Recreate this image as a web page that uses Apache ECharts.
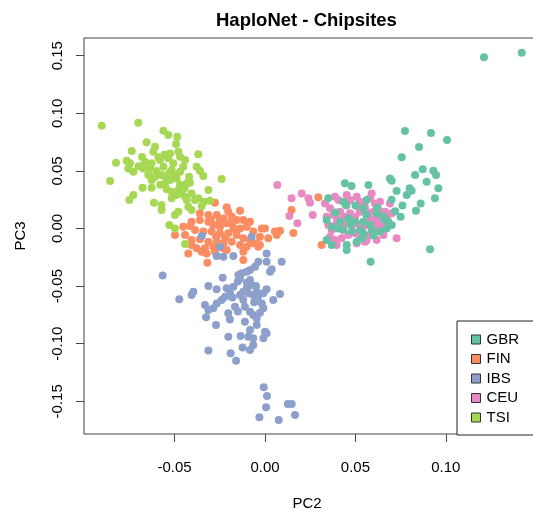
<!DOCTYPE html>
<html>
<head>
<meta charset="utf-8">
<script src="https://cdn.jsdelivr.net/npm/echarts@6/dist/echarts.min.js"></script>
<style>
  html, body { margin: 0; padding: 0; background: #ffffff; }
  #chart { width: 533px; height: 510px; }
</style>
</head>
<body>
<div id="chart"></div>
<script>
// Principal components (PC2, PC3) per individual, grouped by population.
const GBR = [
  [0.1211,0.1486],[0.1420,0.1526],[0.0774,0.0846],[0.0918,0.0829],[0.1007,0.0768],[0.0852,0.0707],
  [0.0756,0.0618],[0.0691,0.0435],[0.0701,0.0415],[0.0728,0.0326],[0.0784,0.0291],[0.0811,0.0328],
  [0.0830,0.0464],[0.0872,0.0514],[0.0931,0.0502],[0.0946,0.0464],[0.0894,0.0407],[0.0959,0.0349],
  [0.0940,0.0262],[0.0861,0.0218],[0.0835,0.0155],[0.0750,0.0103],[0.0913,-0.0181],[0.0584,-0.0288],
  [0.0442,0.0392],[0.0479,0.0369],[0.0572,0.0378],[0.0350,0.0262],[0.0433,0.0233],[0.0448,0.0204],
  [0.0562,0.0247],[0.0544,0.0175],[0.0618,0.0132],[0.0341,0.0074],[0.0415,0.0059],[0.0461,0.0088],
  [0.0498,0.0059],[0.0544,0.0059],[0.0655,0.0103],[0.0682,0.0059],[0.0701,0.0030],[0.0673,0.0001],
  [0.0636,-0.0027],[0.0590,-0.0013],[0.0525,-0.0013],[0.0479,-0.0027],[0.0433,-0.0013],[0.0406,0.0001],
  [0.0369,0.0016],[0.0341,-0.0100],[0.0369,-0.0143],[0.0452,-0.0143],[0.0452,-0.0187],[0.0507,-0.0114],
  [0.0544,-0.0042],[0.0581,0.0030],[0.0500,0.0200],[0.0560,0.0120],[0.0470,0.0040],[0.0620,0.0180],
  [0.0390,0.0140],[0.0600,-0.0060],[0.0540,-0.0080],[0.0660,0.0080],[0.0720,0.0150],[0.0760,0.0200],
  [0.0800,0.0350],[0.0700,0.0250]
];
const FIN = [
  [-0.0277,0.0224],[-0.0212,0.0184],[-0.0203,0.0146],[-0.0138,0.0155],[-0.0083,0.0059],[-0.0018,0.0001],
  [0.0000,0.0001],[0.0065,-0.0056],[0.0018,-0.0085],[0.0055,-0.0027],[-0.0360,0.0132],[-0.0313,0.0117],
  [-0.0267,0.0117],[-0.0230,0.0088],[-0.0184,0.0103],[-0.0157,0.0074],[-0.0120,0.0074],[-0.0406,0.0059],
  [-0.0360,0.0074],[-0.0313,0.0059],[-0.0286,0.0030],[-0.0249,0.0016],[-0.0212,0.0045],[-0.0175,0.0001],
  [-0.0138,0.0001],[-0.0101,0.0016],[-0.0065,-0.0027],[-0.0028,-0.0071],[-0.0452,0.0016],[-0.0415,0.0022],
  [-0.0387,-0.0013],[-0.0341,-0.0027],[-0.0295,-0.0027],[-0.0249,-0.0042],[-0.0203,-0.0042],[-0.0157,-0.0056],
  [-0.0120,-0.0085],[-0.0083,-0.0100],[-0.0046,-0.0129],[-0.0498,-0.0056],[-0.0442,-0.0056],[-0.0406,-0.0100],
  [-0.0360,-0.0094],[-0.0313,-0.0114],[-0.0267,-0.0114],[-0.0230,-0.0129],[-0.0184,-0.0114],[-0.0138,-0.0143],
  [-0.0101,-0.0158],[-0.0037,-0.0158],[-0.0406,-0.0143],[-0.0378,-0.0172],[-0.0332,-0.0172],[-0.0286,-0.0158],
  [-0.0230,-0.0172],[-0.0424,-0.0216],[-0.0350,-0.0201],[-0.0323,-0.0216],[-0.0277,-0.0201],[-0.0212,-0.0187],
  [-0.0120,-0.0201],[-0.0319,-0.0297],[-0.0120,-0.0273],[-0.0028,-0.0143],[-0.0065,-0.0129],[0.0083,-0.0020],
  [0.0157,-0.0040],[0.0295,0.0271],[0.0147,0.0161],[0.0313,-0.0143],[-0.0250,0.0060],[-0.0180,0.0040],
  [-0.0300,0.0080],[-0.0220,-0.0080],[-0.0160,-0.0020],[-0.0270,-0.0070]
];
const IBS = [
  [-0.0350,-0.0065],[-0.0249,-0.0158],[-0.0267,-0.0239],[-0.0230,-0.0245],[-0.0175,-0.0239],[-0.0074,-0.0071],
  [0.0009,-0.0216],[0.0009,-0.0288],[-0.0037,-0.0288],[-0.0055,-0.0331],[-0.0083,-0.0360],[-0.0101,-0.0375],
  [-0.0129,-0.0389],[-0.0147,-0.0404],[-0.0138,-0.0433],[0.0092,-0.0288],[0.0037,-0.0354],[0.0028,-0.0375],
  [-0.0566,-0.0409],[-0.0234,-0.0427],[-0.0083,-0.0447],[-0.0074,-0.0490],[-0.0101,-0.0519],[-0.0120,-0.0548],
  [-0.0138,-0.0577],[-0.0092,-0.0563],[-0.0065,-0.0577],[-0.0046,-0.0548],[-0.0009,-0.0563],[0.0009,-0.0528],
  [0.0046,-0.0621],[0.0083,-0.0569],[-0.0313,-0.0499],[-0.0267,-0.0528],[-0.0212,-0.0519],[-0.0175,-0.0505],
  [-0.0194,-0.0563],[-0.0221,-0.0592],[-0.0240,-0.0621],[-0.0267,-0.0650],[-0.0286,-0.0693],[-0.0313,-0.0707],
  [-0.0326,-0.0771],[-0.0332,-0.0664],[-0.0396,-0.0548],[-0.0406,-0.0577],[-0.0474,-0.0615],[-0.0166,-0.0679],
  [-0.0203,-0.0736],[-0.0194,-0.0789],[-0.0111,-0.0679],[-0.0083,-0.0722],[-0.0065,-0.0751],[-0.0046,-0.0780],
  [-0.0028,-0.0731],[-0.0009,-0.0693],[-0.0018,-0.0650],[-0.0271,-0.0838],[-0.0111,-0.0809],[-0.0046,-0.0838],
  [-0.0083,-0.0881],[0.0000,-0.0896],[0.0009,-0.0910],[-0.0009,-0.0953],[-0.0065,-0.0953],[-0.0092,-0.0939],
  [-0.0135,-0.0933],[-0.0203,-0.0939],[-0.0065,-0.1011],[-0.0083,-0.1055],[-0.0124,-0.1032],[-0.0190,-0.1084],
  [-0.0160,-0.1147],[-0.0313,-0.1060],[-0.0007,-0.1379],[0.0011,-0.1454],[0.0006,-0.1552],[-0.0031,-0.1639],
  [0.0076,-0.1662],[0.0126,-0.1524],[0.0148,-0.1524],[0.0166,-0.1619],[-0.0150,-0.0460],[-0.0100,-0.0470],
  [-0.0050,-0.0500],[-0.0180,-0.0600],[-0.0120,-0.0620],[-0.0060,-0.0640],[-0.0150,-0.0720],[-0.0040,-0.0600]
];
const CEU = [
  [0.0068,0.0378],[0.0147,0.0262],[0.0203,0.0305],[0.0240,0.0262],[0.0249,0.0224],[0.0135,0.0109],
  [0.0179,0.0045],[0.0264,0.0117],[0.0332,0.0218],[0.0360,0.0175],[0.0387,0.0276],[0.0406,0.0247],
  [0.0452,0.0291],[0.0470,0.0247],[0.0507,0.0276],[0.0525,0.0233],[0.0581,0.0262],[0.0590,0.0305],
  [0.0608,0.0218],[0.0636,0.0233],[0.0691,0.0218],[0.0701,0.0132],[0.0341,0.0103],[0.0378,0.0117],
  [0.0415,0.0146],[0.0442,0.0103],[0.0470,0.0132],[0.0498,0.0103],[0.0525,0.0146],[0.0553,0.0175],
  [0.0572,0.0132],[0.0599,0.0146],[0.0627,0.0161],[0.0664,0.0146],[0.0673,0.0088],[0.0350,0.0030],
  [0.0369,-0.0013],[0.0396,0.0045],[0.0433,0.0016],[0.0479,0.0030],[0.0507,0.0045],[0.0535,0.0001],
  [0.0562,0.0030],[0.0590,0.0059],[0.0618,0.0088],[0.0645,0.0030],[0.0608,-0.0013],[0.0581,-0.0056],
  [0.0360,-0.0071],[0.0387,-0.0100],[0.0424,-0.0085],[0.0461,-0.0056],[0.0498,-0.0042],[0.0525,-0.0085],
  [0.0562,-0.0100],[0.0618,-0.0100],[0.0655,-0.0056],[0.0728,-0.0085],[0.0396,-0.0143],[0.0507,-0.0129],
  [0.0553,-0.0114],[0.0450,0.0200],[0.0520,0.0180],[0.0580,0.0080],[0.0400,0.0080],[0.0480,-0.0020],
  [0.0550,0.0200],[0.0620,0.0040],[0.0440,0.0060]
];
const TSI = [
  [-0.0903,0.0893],[-0.0701,0.0919],[-0.0562,0.0849],[-0.0535,0.0812],[-0.0485,0.0797],[-0.0492,0.0734],
  [-0.0655,0.0748],[-0.0608,0.0710],[-0.0618,0.0667],[-0.0737,0.0673],[-0.0824,0.0571],[-0.0765,0.0589],
  [-0.0747,0.0566],[-0.0756,0.0522],[-0.0728,0.0493],[-0.0664,0.0580],[-0.0673,0.0522],[-0.0627,0.0566],
  [-0.0636,0.0522],[-0.0645,0.0464],[-0.0608,0.0450],[-0.0627,0.0421],[-0.0581,0.0595],[-0.0562,0.0537],
  [-0.0572,0.0464],[-0.0544,0.0435],[-0.0553,0.0392],[-0.0525,0.0652],[-0.0535,0.0609],[-0.0507,0.0566],
  [-0.0516,0.0508],[-0.0498,0.0464],[-0.0525,0.0421],[-0.0479,0.0667],[-0.0470,0.0624],[-0.0442,0.0595],
  [-0.0452,0.0537],[-0.0470,0.0493],[-0.0489,0.0435],[-0.0369,0.0644],[-0.0378,0.0537],[-0.0360,0.0502],
  [-0.0341,0.0456],[-0.0240,0.0430],[-0.0857,0.0412],[-0.0677,0.0354],[-0.0627,0.0354],[-0.0415,0.0398],
  [-0.0433,0.0392],[-0.0313,0.0334],[-0.0479,0.0334],[-0.0489,0.0291],[-0.0461,0.0305],[-0.0442,0.0276],
  [-0.0433,0.0247],[-0.0406,0.0305],[-0.0387,0.0247],[-0.0369,0.0262],[-0.0516,0.0262],[-0.0728,0.0291],
  [-0.0750,0.0247],[-0.0614,0.0224],[-0.0572,0.0204],[-0.0572,0.0161],[-0.0479,0.0146],[-0.0498,0.0117],
  [-0.0424,0.0190],[-0.0406,0.0161],[-0.0350,0.0195],[-0.0337,0.0233],[-0.0304,0.0242],[-0.0529,0.0030],
  [-0.0498,0.0001],[-0.0442,-0.0135],[-0.0516,0.0320],[-0.0544,0.0340],[-0.0590,0.0620],[-0.0555,0.0640],
  [-0.0600,0.0500],[-0.0530,0.0480],[-0.0580,0.0380],[-0.0470,0.0380],[-0.0445,0.0350],[-0.0420,0.0450],
  [-0.0680,0.0620],[-0.0700,0.0540]
];

const populations = ['GBR', 'FIN', 'IBS', 'CEU', 'TSI'];
const popColors = { GBR: '#66C2A5', FIN: '#FC8D62', IBS: '#8DA0CB', CEU: '#E78AC3', TSI: '#A6D854' };
const popData = { GBR, FIN, IBS, CEU, TSI };
const drawOrder = ['FIN', 'IBS', 'TSI', 'CEU', 'GBR'];

const xTicks = [-0.05, 0.00, 0.05, 0.10];
const yTicks = [-0.15, -0.10, -0.05, 0.00, 0.05, 0.10, 0.15];
const xRange = [-0.1001, 0.1532];
const yRange = [-0.1784, 0.1654];

const FONT = 'Liberation Sans, Arial, Helvetica, sans-serif';
const fmt = v => Number(v).toFixed(2);

const chart = echarts.init(document.getElementById('chart'), null, { renderer: 'canvas' });

chart.setOption({
  animation: false,
  backgroundColor: '#ffffff',
  textStyle: { fontFamily: FONT, color: '#000' },
  title: {
    text: 'HaploNet - Chipsites',
    left: 216,
    top: 11,
    padding: 0,
    textStyle: { fontFamily: FONT, fontSize: 18.5, fontWeight: 'bold', color: '#000', lineHeight: 19 }
  },
  grid: {
    left: 84, top: 38, width: 458, height: 396,
    outerBoundsMode: 'none',
    show: true, borderColor: '#444', borderWidth: 1, backgroundColor: 'transparent',
    containLabel: false
  },
  xAxis: {
    type: 'value',
    min: xRange[0], max: xRange[1],
    name: 'PC2', nameLocation: 'middle', nameGap: 62,
    nameTextStyle: { fontFamily: FONT, fontSize: 15, color: '#000', lineHeight: 15, padding: [0, 12, 0, 0] },
    splitLine: { show: false },
    axisLine: { show: false, onZero: false },
    axisTick: { show: true, inside: false, length: 8, customValues: xTicks, lineStyle: { color: '#444', width: 1 } },
    axisLabel: { customValues: xTicks, formatter: fmt, margin: 26, fontSize: 15, fontFamily: FONT, color: '#000', lineHeight: 15 }
  },
  yAxis: {
    type: 'value',
    min: yRange[0], max: yRange[1],
    name: 'PC3', nameLocation: 'middle', nameGap: 56, nameRotate: 90,
    nameTextStyle: { fontFamily: FONT, fontSize: 15, color: '#000', lineHeight: 15 },
    splitLine: { show: false },
    axisLine: { show: false, onZero: false },
    axisTick: { show: true, inside: false, length: 8, customValues: yTicks, lineStyle: { color: '#444', width: 1 } },
    axisLabel: { customValues: yTicks, formatter: fmt, rotate: 90, margin: 19, fontSize: 15, fontFamily: FONT, color: '#000', lineHeight: 15 }
  },
  legend: {
    data: populations,
    orient: 'vertical',
    left: 457, top: 321,
    padding: [11, 60, 10, 14],
    itemGap: 4.5,
    itemWidth: 9, itemHeight: 9,
    icon: 'rect',
    backgroundColor: '#ffffff',
    borderColor: '#222', borderWidth: 1, borderRadius: 0,
    itemStyle: { borderColor: '#333', borderWidth: 1 },
    textStyle: { fontFamily: FONT, fontSize: 15, color: '#000', lineHeight: 15, padding: [0, 0, 0, 1] },
    selectedMode: false
  },
  series: drawOrder.map(p => ({
    name: p,
    type: 'scatter',
    data: popData[p],
    symbol: 'circle',
    symbolSize: 8,
    itemStyle: { color: popColors[p], opacity: 1 },
    emphasis: { disabled: true },
    clip: true
  }))
});
</script>
</body>
</html>
